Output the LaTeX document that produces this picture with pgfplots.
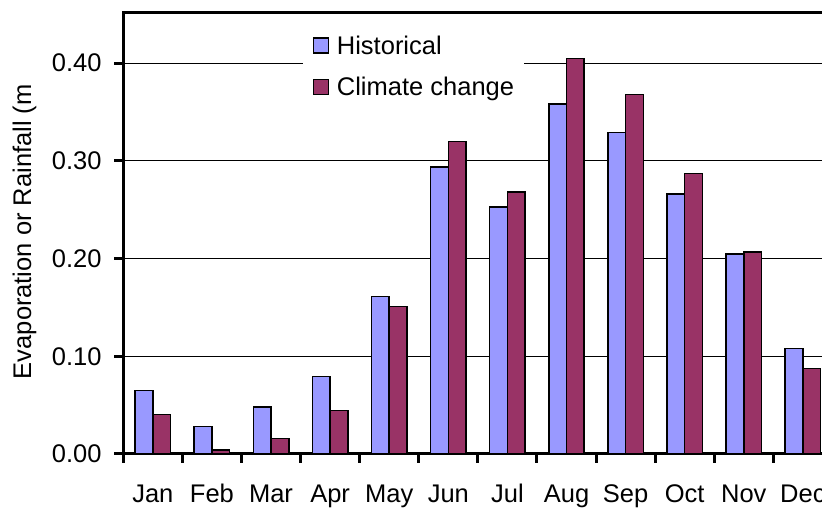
\documentclass[border=0pt]{standalone}
\usepackage{fontspec}
\setmainfont{Liberation Sans}
\usepackage{pgfplots}
\pgfplotsset{compat=1.18}
\definecolor{hist}{HTML}{9999FF}
\definecolor{clim}{HTML}{993366}
\pgfplotsset{sqleg/.style={legend image code/.code={\draw[##1, line width=1.2bp] (0bp,-7.5bp) rectangle (15bp,7.5bp);}}}
\begin{document}
{\fontsize{25.5bp}{30bp}\selectfont
\begin{tikzpicture}[x=1bp,y=1bp]
\path[use as bounding box] (0,0) rectangle (822,509);
\clip (0,0) rectangle (822,509);
\begin{axis}[
  at={(123.3bp,55bp)}, anchor=south west,
  scale only axis, width=709.1bp, height=441.6bp,
  xmin=0, xmax=12, ymin=0, ymax=0.452,
  clip=false,
  ybar=0pt, bar width=17.73bp,
  xtick={0.5,1.5,2.5,3.5,4.5,5.5,6.5,7.5,8.5,9.5,10.5,11.5},
  xticklabels={Jan,Feb,Mar,Apr,May,Jun,Jul,Aug,Sep,Oct,Nov,Dec},
  minor xtick={0,1,2,3,4,5,6,7,8,9,10,11,12},
  ytick={0,0.1,0.2,0.3,0.4},
  /pgf/number format/fixed, /pgf/number format/fixed zerofill,
  /pgf/number format/precision=2, /pgf/number format/assume math mode=true,
  tick pos=left, tick align=outside,
  major tick length=9bp, minor tick length=9bp,
  tick style={black, line width=3bp},
  major x tick style={draw=none},
  axis line style={line width=3bp},
  ymajorgrids, grid style={black, line width=0.9bp},
  yticklabel style={anchor=east, inner sep=0pt, xshift=-12.6bp},
  xticklabel style={anchor=base, inner sep=0pt, yshift=-39.7bp},
  ylabel={Evaporation or Rainfall (m},
  ylabel style={at={(axis description cs:-0.1392,0.5034)}, anchor=center},
  legend style={at={(rel axis cs:0.253,0.9676)}, anchor=north west, draw=none, fill=white,
    inner xsep=10bp, inner ysep=10bp, outer sep=0pt, row sep=24.2bp,
    nodes={inner sep=0pt, text height=17.5bp, text depth=0bp},
    /tikz/every odd column/.append style={column sep=8bp}},
  legend cell align=left,
]
\addplot[fill=hist, draw=black, line width=1.5bp, sqleg]
  coordinates {(0.5,0.065) (1.5,0.028) (2.5,0.048) (3.5,0.0795) (4.5,0.161) (5.5,0.294)
    (6.5,0.253) (7.5,0.358) (8.5,0.329) (9.5,0.266) (10.5,0.2045) (11.5,0.108)};
\addplot[fill=clim, draw=black, line width=1.5bp, sqleg]
  coordinates {(0.5,0.0406) (1.5,0.004) (2.5,0.016) (3.5,0.0447) (4.5,0.151) (5.5,0.320)
    (6.5,0.268) (7.5,0.405) (8.5,0.368) (9.5,0.287) (10.5,0.2065) (11.5,0.0877)};
\legend{Historical, Climate change}
\pgfplotsinvokeforeach{0,1,2,3,4,5,6,7,8,9,10,11,12}{
  \draw[black, line width=3bp] (axis cs:#1,0) -- ++(0bp,-9bp);}
\pgfplotsinvokeforeach{0,0.1,0.2,0.3,0.4}{
  \draw[black, line width=3bp] (axis cs:0,#1) -- ++(-9bp,0bp);}
\end{axis}
\end{tikzpicture}}
\end{document}
